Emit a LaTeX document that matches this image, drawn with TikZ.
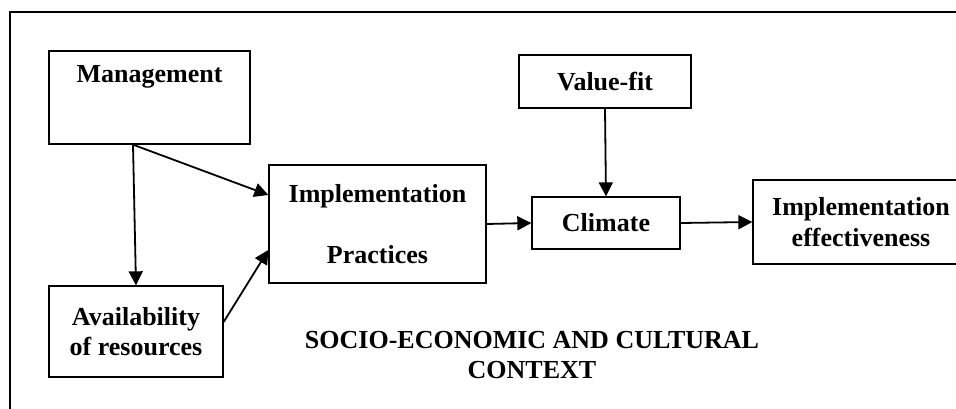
\documentclass[tikz,border=0pt]{standalone}
\usepackage{fontspec}
\setmainfont{Liberation Serif}
\usetikzlibrary{arrows.meta}
\begin{document}
\begin{tikzpicture}[x=1pt,y=-1pt,
  box/.style={draw=black, line width=1.3pt, inner sep=0pt, align=center,
    font=\fontsize{26}{30.5}\selectfont\bfseries},
  lbl/.style={inner sep=0pt, align=center, font=\fontsize{26}{29.5}\selectfont\bfseries},
  arr/.style={line width=1.8pt, -{Triangle[length=14pt,width=14pt]}}]
\useasboundingbox[fill=white] (0,0) rectangle (956,409);
% outer frame (cropped)
\draw[line width=1.2pt] (10,420) -- (10,12) -- (970,12);
% boxes
\node[box, minimum width=201pt, minimum height=93pt] (mgmt) at (149.5,97.5)
  {\raisebox{14.5pt}[0pt][0pt]{Management}};
\node[box, minimum width=174pt, minimum height=91pt] (avail) at (136,331.5)
  {Availability\\of resources};
\node[box, minimum width=217pt, minimum height=118pt] (impl) at (377.5,224)
  {Implementation\\[31pt]Practices};
\node[box, minimum width=172pt, minimum height=53pt] (value) at (605,81.5)
  {Value-fit};
\node[box, minimum width=148pt, minimum height=52pt] (climate) at (606,223)
  {Climate};
\node[box, minimum width=216pt, minimum height=84pt] (eff) at (861,222)
  {Implementation\\effectiveness};
\node[lbl] (ctx) at (532,355) {SOCIO-ECONOMIC AND CULTURAL\\CONTEXT};
% arrows
\draw[arr] ([xshift=-16.5pt]mgmt.south) -- (avail.north);
\draw[arr] ([xshift=-16.5pt]mgmt.south) -- ([yshift=29pt]impl.west);
\draw[arr] ([yshift=9.5pt]avail.east) -- ([yshift=-26pt]impl.west);
\draw[arr] (impl.east) -- (climate.west);
\draw[arr] (value.south) -- (climate.north);
\draw[arr] (climate.east) -- (eff.west);
\end{tikzpicture}
\end{document}
